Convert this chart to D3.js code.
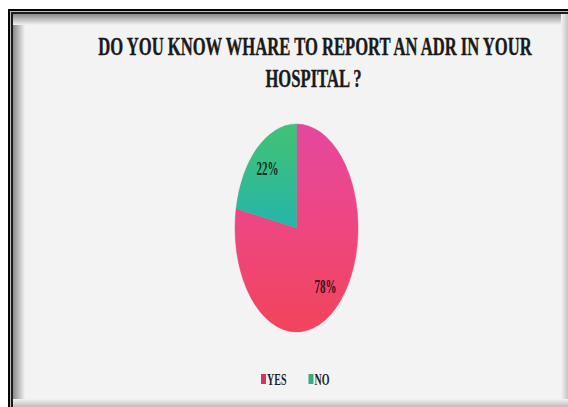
<!DOCTYPE html>
<html>
<head>
<meta charset="utf-8">
<script src="https://cdn.jsdelivr.net/npm/d3@7/dist/d3.min.js"></script>
<style>
  html, body { margin: 0; padding: 0; background: #ffffff; }
  svg { display: block; }
  text { font-family: "Liberation Serif", "Times New Roman", serif; font-weight: bold; }
</style>
</head>
<body>
<svg id="chart" width="568" height="407"></svg>
<script>
// Survey answers
const categories = ["YES", "NO"];
const values = [78, 22];
const labels = ["78%", "22%"];
const titleLines = ["DO YOU KNOW WHARE TO REPORT AN ADR IN YOUR", "HOSPITAL ?"];

const W = 568, H = 407;
const svg = d3.select("#chart");
const defs = svg.append("defs");

// ---- framed panel with inner shadow ----
svg.append("rect").attr("x", 0).attr("y", 0).attr("width", W).attr("height", H).attr("fill", "#ffffff");
svg.append("rect").attr("x", 8).attr("y", 9).attr("width", W).attr("height", H).attr("fill", "#050505");
svg.append("rect").attr("x", 10).attr("y", 11).attr("width", W).attr("height", H).attr("fill", "#bdbdbd");
svg.append("rect").attr("x", 11).attr("y", 12).attr("width", W).attr("height", H).attr("fill", "#1c1c1c");
svg.append("rect").attr("x", 13).attr("y", 14).attr("width", W).attr("height", H).attr("fill", "#f3f3f3");

function edgeGrad(id, x1, y1, x2, y2, from, to) {
  const g = defs.append("linearGradient").attr("id", id)
    .attr("x1", x1).attr("y1", y1).attr("x2", x2).attr("y2", y2);
  g.append("stop").attr("offset", 0).attr("stop-color", from);
  g.append("stop").attr("offset", 1).attr("stop-color", to);
}
edgeGrad("shL", 0, 0, 1, 0, "#8a8a8a", "#f3f3f3");
edgeGrad("shT", 0, 0, 0, 1, "#8a8a8a", "#f3f3f3");
edgeGrad("shR", 0, 0, 1, 0, "#f3f3f3", "#c4c4c4");
edgeGrad("shB", 0, 0, 0, 1, "#f3f3f3", "#bcbcbc");
svg.append("rect").attr("x", 13).attr("y", 14).attr("width", 12).attr("height", H).attr("fill", "url(#shL)");
svg.append("rect").attr("x", 13).attr("y", 14).attr("width", W).attr("height", 11).attr("fill", "url(#shT)");
svg.append("rect").attr("x", 561).attr("y", 14).attr("width", 7).attr("height", H).attr("fill", "url(#shR)");
svg.append("rect").attr("x", 13).attr("y", 399).attr("width", W).attr("height", 8).attr("fill", "url(#shB)");

// ---- title (tall, narrow lettering) ----
const titleY = [55, 87];
const titleX = [315, 313.5];
titleLines.forEach((t, i) => {
  svg.append("text")
    .attr("transform", `translate(${titleX[i]},${titleY[i]}) scale(1,1.56)`)
    .attr("text-anchor", "middle")
    .attr("font-size", 16.6)
    .attr("fill", "#1a1a1a")
    .attr("stroke", "#1a1a1a")
    .attr("stroke-width", 0.25)
    .text(t);
});

// ---- pie, drawn as an ellipse ----
const cx = 296.5, cy = 228, ry = 104, rx = 61.5;
const sx = rx / ry;

const sliceColors = [
  [["0", "#e4489e"], ["0.5", "#ee4680"], ["1", "#f2445a"]],
  [["0", "#42c272"], ["1", "#26b5aa"]]
];
const gradSpan = [[-ry, ry], [-ry, 0]];
sliceColors.forEach((stops, i) => {
  const g = defs.append("linearGradient").attr("id", "slice" + i)
    .attr("gradientUnits", "userSpaceOnUse")
    .attr("x1", 0).attr("y1", gradSpan[i][0]).attr("x2", 0).attr("y2", gradSpan[i][1]);
  stops.forEach(s => g.append("stop").attr("offset", s[0]).attr("stop-color", s[1]));
});

const pie = d3.pie().sort(null).value(d => d)(values);
const arc = d3.arc().innerRadius(0).outerRadius(ry);

const pieG = svg.append("g").attr("transform", `translate(${cx},${cy}) scale(${sx},1)`);
pieG.selectAll("path").data(pie).join("path")
  .attr("d", arc)
  .attr("fill", (d, i) => `url(#slice${i})`)
  .attr("stroke", (d, i) => i === 0 ? "#e0487a" : "#30b890")
  .attr("stroke-width", 0.6);

// slice labels
const labelArc = d3.arc().innerRadius(ry * 0.74).outerRadius(ry * 0.74);
pie.forEach((d, i) => {
  const c = labelArc.centroid(d);
  svg.append("text")
    .attr("transform", `translate(${cx + c[0] * sx},${cy + c[1] + 6}) scale(1,1.7)`)
    .attr("text-anchor", "middle")
    .attr("font-size", 11)
    .attr("fill", i === 0 ? "#3a0d18" : "#0f2a1e")
    .text(labels[i]);
});

// ---- legend ----
const legendColors = ["#d8306c", "#3aa880"];
let lx = 261;
const ly = 385;
categories.forEach((c, i) => {
  svg.append("rect").attr("x", lx).attr("y", ly - 11).attr("width", 5).attr("height", 10)
    .attr("fill", legendColors[i]);
  const t = svg.append("text")
    .attr("transform", `translate(${lx + 6},${ly}) scale(1,1.75)`)
    .attr("font-size", 10)
    .attr("fill", "#1e1e1e")
    .text(c);
  lx += 6 + t.node().getComputedTextLength() + 22;
});
</script>
</body>
</html>
